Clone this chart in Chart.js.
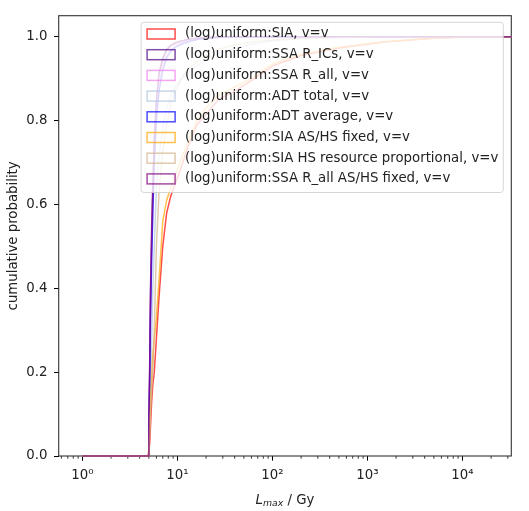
<!DOCTYPE html>
<html>
<head>
<meta charset="utf-8">
<script src="https://cdn.jsdelivr.net/npm/chart.js@4.4.0/dist/chart.umd.min.js"></script>
<style>
  html, body { margin: 0; padding: 0; background: #fff; }
  #cht-lmax { display: block; }
</style>
</head>
<body>
<canvas id="cht-lmax" width="529" height="511"></canvas>
<script>
// bin edges (L_max / Gy) shared by every cumulative curve
var binEdges = [1, 4.9, 5.0, 5.1, 5.2, 5.35, 5.5, 5.7, 6.0, 6.4, 7.0, 7.7, 8.5, 9.5, 11, 13, 16, 20, 27, 40, 60, 100, 200, 500, 1500, 5000, 12000, 40000];

// cumulative probability at each bin edge
var cdfSIA          = [0, 0, 0, 0.03, 0.07, 0.13, 0.17, 0.2, 0.28, 0.38, 0.5, 0.58, 0.62, 0.65, 0.69, 0.74, 0.79, 0.815, 0.85, 0.87, 0.895, 0.93, 0.955, 0.973, 0.987, 0.996, 1, 1];
var cdfSSARICs      = [0, 0, 0.08, 0.2, 0.38, 0.52, 0.63, 0.75, 0.84, 0.91, 0.945, 0.968, 0.978, 0.984, 0.989, 0.993, 0.996, 0.998, 0.999, 1, 1, 1, 1, 1, 1, 1, 1, 1];
var cdfSSARall      = [0, 0, 0.07, 0.18, 0.35, 0.5, 0.6, 0.72, 0.82, 0.89, 0.93, 0.955, 0.968, 0.977, 0.984, 0.99, 0.994, 0.997, 0.999, 1, 1, 1, 1, 1, 1, 1, 1, 1];
var cdfADTTotal     = [0, 0, 0.03, 0.08, 0.15, 0.28, 0.4, 0.5, 0.64, 0.72, 0.78, 0.83, 0.86, 0.88, 0.9, 0.915, 0.93, 0.945, 0.96, 0.972, 0.982, 0.99, 0.995, 0.998, 1, 1, 1, 1];
var cdfADTAverage   = [0, 0, 0.06, 0.17, 0.33, 0.47, 0.58, 0.7, 0.8, 0.87, 0.92, 0.95, 0.965, 0.975, 0.982, 0.988, 0.993, 0.996, 0.998, 0.999, 1, 1, 1, 1, 1, 1, 1, 1];
var cdfSIAFixed     = [0, 0, 0.01, 0.08, 0.13, 0.18, 0.24, 0.28, 0.33, 0.42, 0.56, 0.61, 0.64, 0.67, 0.71, 0.75, 0.8, 0.83, 0.86, 0.88, 0.9, 0.935, 0.958, 0.975, 0.988, 0.997, 1, 1];
var cdfSIAHSProp    = [0, 0, 0.02, 0.05, 0.1, 0.16, 0.2, 0.3, 0.5, 0.63, 0.73, 0.79, 0.84, 0.87, 0.9, 0.925, 0.94, 0.955, 0.97, 0.98, 0.987, 0.992, 0.996, 0.998, 1, 1, 1, 1];
var cdfSSARallFixed = [0, 0, 0.1, 0.22, 0.4, 0.55, 0.65, 0.76, 0.85, 0.915, 0.95, 0.97, 0.98, 0.986, 0.99, 0.994, 0.997, 0.998, 0.999, 1, 1, 1, 1, 1, 1, 1, 1, 1];

var seriesNames = [
    '(log)uniform:SIA, v=v',
    '(log)uniform:SSA R_ICs, v=v',
    '(log)uniform:SSA R_all, v=v',
    '(log)uniform:ADT total, v=v',
    '(log)uniform:ADT average, v=v',
    '(log)uniform:SIA AS/HS fixed, v=v',
    '(log)uniform:SIA HS resource proportional, v=v',
    '(log)uniform:SSA R_all AS/HS fixed, v=v'
];
var seriesValues = [cdfSIA, cdfSSARICs, cdfSSARall, cdfADTTotal, cdfADTAverage, cdfSIAFixed, cdfSIAHSProp, cdfSSARallFixed];
var seriesColours = [
    'rgba(255,0,0,0.7)',       // red
    'rgba(75,0,130,0.7)',      // indigo
    'rgba(238,130,238,0.7)',   // violet
    'rgba(176,196,222,0.7)',   // lightsteelblue
    'rgba(0,0,255,0.7)',       // blue
    'rgba(255,165,0,0.7)',     // orange
    'rgba(210,180,140,0.7)',   // tan
    'rgba(128,0,128,0.7)'      // purple
];

var xTickValues = [1, 10, 100, 1000, 10000];
var xTickLabels = ['10\u2070', '10\u00b9', '10\u00b2', '10\u00b3', '10\u2074'];
var yTickValues = [0, 0.2, 0.4, 0.6, 0.8, 1.0];
var yTickLabels = ['0.0', '0.2', '0.4', '0.6', '0.8', '1.0'];

var FONT = 'DejaVu Sans';
var TEXT = '#222';

var datasets = [];
seriesNames.forEach(function (name, i) {
    datasets.push({
        label: name,
        data: binEdges.map(function (x, j) { return { x: x, y: seriesValues[i][j] }; }),
        borderColor: seriesColours[i],
        backgroundColor: 'transparent',
        borderWidth: 1.5,
        pointRadius: 0,
        fill: false,
        tension: 0,
        clip: { left: 2, top: 2, right: 0, bottom: 2 },
        order: seriesNames.length - i   // later series on top, like matplotlib
    });
});

// frame and minor ticks under the curves, boxed legend over them
var frameAndLegend = {
    id: 'frameAndLegend',
    beforeDatasetsDraw: function (chart) {
        var ctx = chart.ctx, a = chart.chartArea;
        var xs = chart.scales.x;
        ctx.save();

        // minor ticks on the log axis
        ctx.strokeStyle = '#000';
        ctx.lineWidth = 0.8;
        for (var k = -1; k <= 4; k++) {
            for (var m = 2; m <= 9; m++) {
                var v = m * Math.pow(10, k);
                if (v < xs.min || v > xs.max) continue;
                var px = xs.getPixelForValue(v);
                ctx.beginPath();
                ctx.moveTo(px, a.bottom);
                ctx.lineTo(px, a.bottom + 2.7);
                ctx.stroke();
            }
        }

        // spines
        ctx.strokeStyle = '#333';
        ctx.lineWidth = 1.1;
        ctx.strokeRect(a.left, a.top, a.right - a.left, a.bottom - a.top);
        ctx.restore();
    },
    afterDatasetsDraw: function (chart) {
        var ctx = chart.ctx, a = chart.chartArea;
        ctx.save();
        ctx.font = '13.3px "' + FONT + '"';
        var sets = chart.data.datasets;
        var textW = 0;
        sets.forEach(function (d) { textW = Math.max(textW, ctx.measureText(d.label).width); });
        var rowH = 20.7;
        var w = 44 + textW + 5;
        var h = 25.3 + rowH * (sets.length - 1);
        var x0 = a.right - 8 - w, y0 = a.top + 6.6;
        ctx.fillStyle = 'rgba(255,255,255,0.8)';
        ctx.strokeStyle = 'rgba(204,204,204,0.8)';
        ctx.lineWidth = 1;
        ctx.beginPath();
        ctx.roundRect(x0, y0, w, h, 3);
        ctx.fill();
        ctx.stroke();
        ctx.textBaseline = 'middle';
        sets.forEach(function (d, i) {
            var cy = y0 + 11.7 + i * rowH;
            ctx.strokeStyle = d.borderColor;
            ctx.lineWidth = 1.5;
            ctx.strokeRect(x0 + 6, cy - 5, 28, 10);
            ctx.fillStyle = TEXT;
            ctx.fillText(d.label, x0 + 44, cy);
        });
        ctx.restore();
    },
    afterDraw: function (chart) {
        // x title: italic L with subscript "max", then " / Gy"
        var ctx = chart.ctx, a = chart.chartArea;
        ctx.save();
        ctx.fillStyle = TEXT;
        ctx.textBaseline = 'alphabetic';
        ctx.font = 'italic 13.3px "' + FONT + '"';
        var w1 = ctx.measureText('L').width;
        ctx.font = 'italic 9.3px "' + FONT + '"';
        var w2 = ctx.measureText('max').width;
        ctx.font = '13.3px "' + FONT + '"';
        var w3 = ctx.measureText(' / Gy').width;
        var x = (a.left + a.right) / 2 - (w1 + w2 + w3) / 2;
        var y = a.bottom + 47.5;
        ctx.font = 'italic 13.3px "' + FONT + '"';
        ctx.fillText('L', x, y);
        ctx.font = 'italic 9.3px "' + FONT + '"';
        ctx.fillText('max', x + w1, y + 2.5);
        ctx.font = '13.3px "' + FONT + '"';
        ctx.fillText(' / Gy', x + w1 + w2, y);
        ctx.restore();
    }
};

var chL = document.getElementById('cht-lmax');
var chtLmax = new Chart(chL, {
    type: 'line',
    data: { datasets: datasets },
    options: {
        responsive: false,
        animation: false,
        layout: { padding: { top: 15.7, right: 17.7, left: 0, bottom: 0 } },
        plugins: {
            legend: { display: false },
            tooltip: { enabled: false }
        },
        scales: {
            x: {
                type: 'logarithmic',
                min: 0.562,
                max: 32650,
                afterBuildTicks: function (s) { s.ticks = xTickValues.map(function (v) { return { value: v }; }); },
                afterFit: function (s) { s.height = 55; },
                border: { display: false },
                grid: { drawOnChartArea: false, color: '#000', tickLength: 4.7, lineWidth: 1 },
                ticks: {
                    autoSkip: false,
                    maxRotation: 0,
                    padding: 7,
                    color: TEXT,
                    font: { family: FONT, size: 13.3 },
                    callback: function (v) { return xTickLabels[xTickValues.indexOf(v)]; }
                }
            },
            y: {
                type: 'linear',
                min: 0,
                max: 1.05,
                afterBuildTicks: function (s) { s.ticks = yTickValues.map(function (v) { return { value: v }; }); },
                afterFit: function (s) { s.width = 58.7; },
                border: { display: false },
                grid: { drawOnChartArea: false, color: '#000', tickLength: 4.7, lineWidth: 1 },
                ticks: {
                    padding: 6.5,
                    color: TEXT,
                    font: { family: FONT, size: 13.3 },
                    callback: function (v) { return yTickLabels[yTickValues.indexOf(v)]; }
                },
                title: {
                    display: true,
                    text: 'cumulative probability',
                    color: TEXT,
                    font: { family: FONT, size: 13.3 },
                    padding: { top: 6, bottom: 0 }
                }
            }
        }
    },
    plugins: [frameAndLegend]
});
</script>
</body>
</html>
